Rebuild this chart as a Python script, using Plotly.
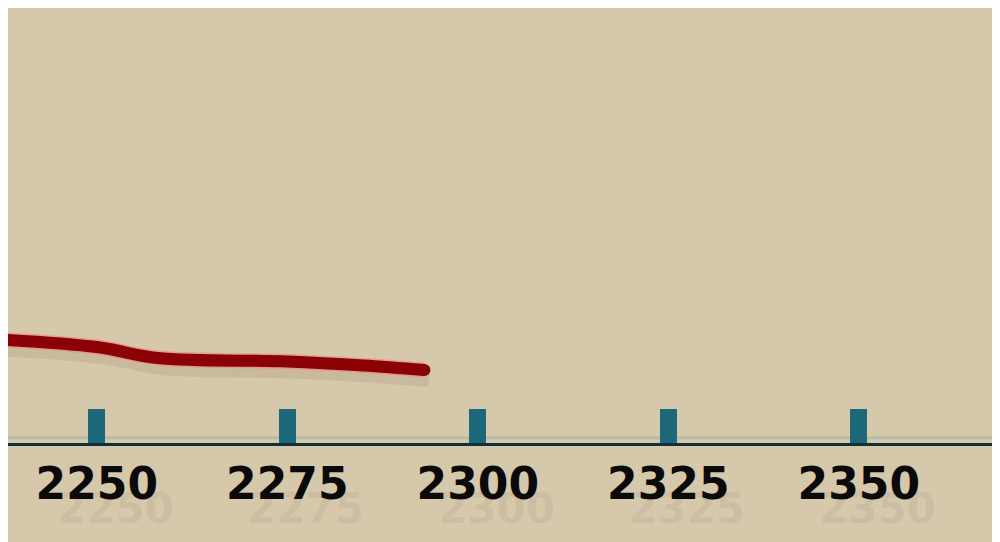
import plotly.graph_objects as go

# Data
years = [2235, 2250, 2258, 2275, 2285, 2293]
values = [10.45, 9.6, 8.5, 8.15, 7.75, 7.3]
tick_years = [2250, 2275, 2300, 2325, 2350, 2375]
tick_labels = ["2250", "2275", "2300", "2325", "2350", "2375"]

BG = "#d6c8ab"
LINE = "#8a0205"
AXIS = "#10303a"
TICK = "#1d6878"

# the page puts the figure 8px in from the corner, so the range starts a little later
PX_PER_YEAR = 7.62
x0 = 2237.3 + 8 / PX_PER_YEAR
W, H = 984, 534

fig = go.Figure()

# soft drop shadow under the line
fig.add_trace(go.Scatter(
    x=[y + 0.6 for y in years], y=[v - 0.9 for v in values],
    mode="lines", line=dict(color="rgba(90,70,50,0.10)", width=16, shape="spline"),
    hoverinfo="skip", showlegend=False,
))
# pinkish rim
fig.add_trace(go.Scatter(
    x=years, y=values, mode="lines",
    line=dict(color="rgba(235,140,130,0.7)", width=15, shape="spline"),
    hoverinfo="skip", showlegend=False,
))
# main red line
fig.add_trace(go.Scatter(
    x=years, y=values, mode="lines",
    line=dict(color=LINE, width=12, shape="spline"),
    hoverinfo="skip", showlegend=False,
))
# rounded end cap
fig.add_trace(go.Scatter(
    x=years[-1:], y=values[-1:], mode="markers",
    marker=dict(color=LINE, size=12, line=dict(width=0)),
    hoverinfo="skip", showlegend=False,
))

# faint echo of the tick labels
for t, lab in zip(tick_years, tick_labels):
    fig.add_annotation(
        x=t + 2.4, y=-0.15, xref="x", yref="paper", text=lab, showarrow=False,
        font=dict(family="DejaVu Sans", size=42, color="rgba(60,50,40,0.08)", weight="bold"),
        yanchor="middle",
    )

# thin light band just above the axis line
fig.add_shape(type="line", xref="paper", yref="paper", x0=0, x1=1, y0=0.012, y1=0.012,
              line=dict(color="rgba(120,170,170,0.35)", width=3), layer="below")

fig.update_layout(
    width=W, height=H,
    paper_bgcolor=BG, plot_bgcolor=BG,
    margin=dict(l=0, r=0, t=0, b=99),
    showlegend=False,
)

fig.update_xaxes(
    range=[x0, x0 + W / PX_PER_YEAR],
    tickvals=tick_years, ticktext=tick_labels,
    ticks="inside", ticklen=34, tickwidth=17, tickcolor=TICK,
    showline=True, linecolor=AXIS, linewidth=3,
    showgrid=False, zeroline=False,
    tickfont=dict(family="DejaVu Sans", size=44, color="#0a0a0a", weight="bold"),
    ticklabelstandoff=0,
)
fig.update_yaxes(range=[0, 43.5], visible=False, showgrid=False, zeroline=False)

fig.write_html("out.html")
